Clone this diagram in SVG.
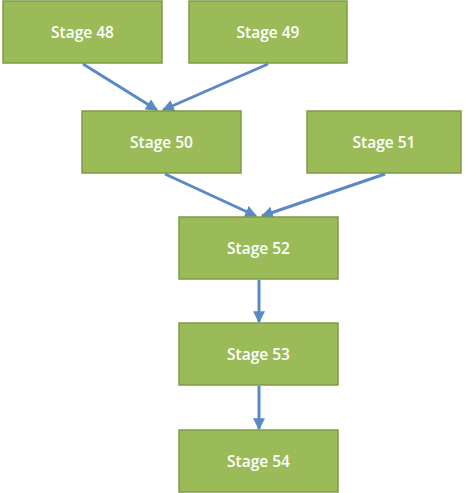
<svg xmlns="http://www.w3.org/2000/svg" width="465" height="493" viewBox="0 0 465 493">
<defs>
<style>
.box{fill:#9BBB59;stroke:#7F9B48;stroke-width:1.5}
.lbl{fill:#FFFFFF;font-family:"Open Sans","Liberation Sans",sans-serif;font-size:15.5px;font-weight:600;text-anchor:middle}
.edge{stroke:#5A8AC6;stroke-width:3;fill:none;marker-end:url(#ah)}
</style>
<marker id="ah" viewBox="0 0 10 10" refX="9" refY="5" markerWidth="4" markerHeight="4" orient="auto" markerUnits="strokeWidth">
<path d="M0,0 L10,5 L0,10 z" fill="#5A8AC6"/>
</marker>
</defs>
<rect width="465" height="493" fill="#FFFFFF"/>
<g id="connectors">
<line class="edge" x1="83" y1="64" x2="157" y2="110"/>
<line class="edge" x1="268" y1="64" x2="163" y2="110"/>
<line class="edge" x1="165" y1="174" x2="256" y2="216"/>
<line class="edge" x1="385" y1="174" x2="262" y2="216"/>
<line class="edge" x1="259" y1="280" x2="259" y2="322"/>
<line class="edge" x1="259" y1="386" x2="259" y2="429"/>
</g>
<g id="stage48"><rect class="box" x="3" y="1" width="159" height="62"/><text class="lbl" x="82.5" y="38">Stage 48</text></g>
<g id="stage49"><rect class="box" x="189" y="1" width="158" height="62"/><text class="lbl" x="268" y="38">Stage 49</text></g>
<g id="stage50"><rect class="box" x="82" y="111" width="159" height="62"/><text class="lbl" x="161.5" y="148">Stage 50</text></g>
<g id="stage51"><rect class="box" x="307" y="111" width="154" height="62"/><text class="lbl" x="384" y="148">Stage 51</text></g>
<g id="stage52"><rect class="box" x="179" y="217" width="159" height="62"/><text class="lbl" x="258.5" y="254">Stage 52</text></g>
<g id="stage53"><rect class="box" x="179" y="323" width="159" height="62"/><text class="lbl" x="258.5" y="360">Stage 53</text></g>
<g id="stage54"><rect class="box" x="179" y="430" width="159" height="62"/><text class="lbl" x="258.5" y="467">Stage 54</text></g>
</svg>
